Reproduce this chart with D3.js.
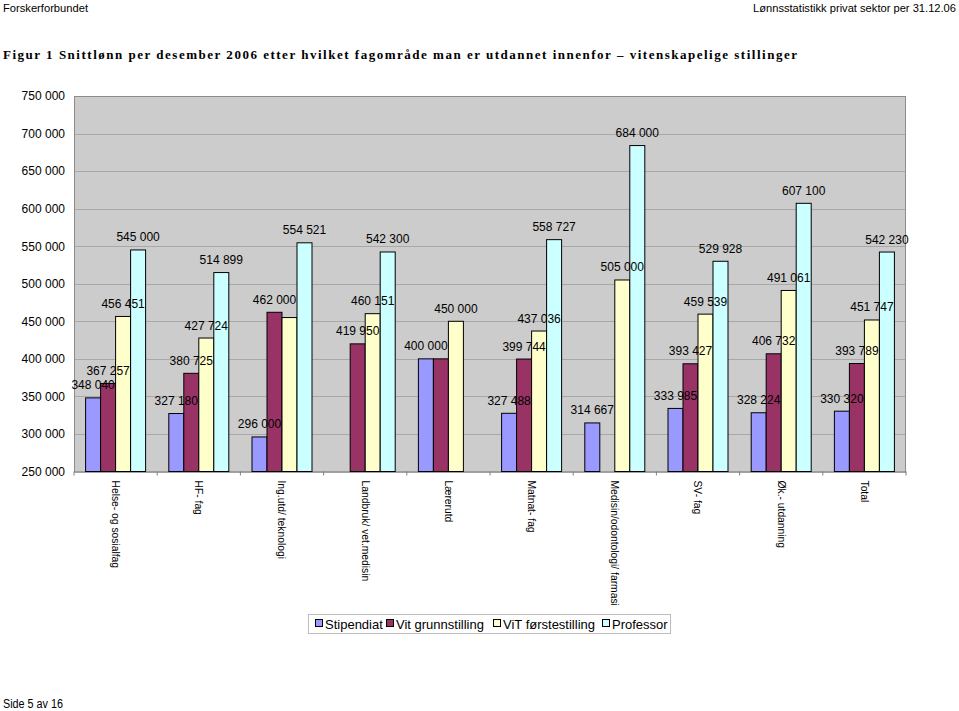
<!DOCTYPE html>
<html><head><meta charset="utf-8">
<script src="https://cdn.jsdelivr.net/npm/d3@7"></script>
<style>body{margin:0;background:#fff}svg{display:block}text{font-family:"Liberation Sans",Arial,sans-serif}</style>
</head><body>
<script>
const categories = ["Helse- og sosialfag","HF- fag","Ing.utd/ teknologi","Landbruk/ vet.medisin","Lærerutd","Matnat- fag","Medisin/odontologi/ farmasi","SV- fag","Øk.- utdanning","Total"];
const seriesNames = ["Stipendiat","Vit grunnstilling","ViT førstestilling","Professor"];
const stipendiat = [348040, 327180, 296000, null, 400000, 327488, 314667, 333985, 328224, 330320];
const vitGrunn   = [367257, 380725, 462000, 419950, 400000, 399744, null, 393427, 406732, 393789];
const vitForste  = [456451, 427724, 455000, 460151, 450000, 437036, 505000, 459539, 491061, 451747];
const professor  = [545000, 514899, 554521, 542300, null, 558727, 684000, 529928, 607100, 542230];
const hiddenLabels = [["Ing.utd/ teknologi","ViT førstestilling"],["Lærerutd","Vit grunnstilling"]];
const yTicks = [250000,300000,350000,400000,450000,500000,550000,600000,650000,700000,750000];
const colors = ["#9999FF","#993366","#FFFFCC","#CCFFFF"];

const W=959,H=711;
const svg=d3.select("body").append("svg").attr("width",W).attr("height",H);
const fmt=v=>d3.format(",")(v).replace(/,/g," ");

// header
svg.append("text").attr("x",3).attr("y",12).attr("font-size",11).attr("textLength",85).attr("lengthAdjust","spacingAndGlyphs").text("Forskerforbundet");
svg.append("text").attr("x",753).attr("y",12).attr("font-size",11).attr("textLength",203).attr("lengthAdjust","spacingAndGlyphs").text("Lønnsstatistikk privat sektor per 31.12.06");
svg.append("text").attr("x",3).attr("y",58.5).attr("font-size",13).attr("font-weight","bold")
  .style("font-family","'Liberation Serif','Times New Roman',serif")
  .attr("textLength",794).attr("lengthAdjust","spacing")
  .text("Figur 1 Snittlønn per desember 2006 etter hvilket fagområde man er utdannet innenfor – vitenskapelige stillinger");
svg.append("text").attr("x",3).attr("y",708).attr("font-size",12).attr("textLength",60).attr("lengthAdjust","spacingAndGlyphs").text("Side 5 av 16");

const L=74,R=906,T=96,B=471.5;
const y=d3.scaleLinear().domain([250000,750000]).range([B,T]);
const x0=d3.scaleBand().domain(categories).range([L,R]).paddingInner(0).paddingOuter(0);
const x1=d3.scaleBand().domain(seriesNames).range([0,x0.bandwidth()]).paddingInner(0).paddingOuter(0.773);

svg.append("rect").attr("x",L).attr("y",T).attr("width",R-L).attr("height",B-T).attr("fill","#CCCCCC");
// grid
svg.append("g").selectAll("line").data(yTicks.slice(1,-1)).join("line")
  .attr("x1",L).attr("x2",R).attr("y1",d=>Math.round(y(d))+0.5).attr("y2",d=>Math.round(y(d))+0.5)
  .attr("stroke","#A8A8A8").attr("stroke-width",1);
svg.append("rect").attr("x",L+0.5).attr("y",T+0.5).attr("width",R-L-1).attr("height",B-T).attr("fill","none").attr("stroke","#8C8C8C");

// y axis
const yAxis=d3.axisLeft(y).tickValues(yTicks).tickFormat(fmt).tickSize(0).tickPadding(9);
const gy=svg.append("g").attr("transform",`translate(${L},0)`).call(yAxis);
gy.select(".domain").remove();
gy.selectAll("text").attr("font-size",12).attr("fill","#000").style("font-family","'Liberation Sans',Arial,sans-serif");

// x axis
const xAxis=d3.axisBottom(x0).tickSize(0).tickPadding(0);
const gx=svg.append("g").attr("transform",`translate(0,${B})`).call(xAxis);
gx.select(".domain").attr("stroke","#808080");
gx.selectAll("text").attr("font-size",10.3).attr("fill","#000").style("font-family","'Liberation Sans',Arial,sans-serif")
  .attr("text-anchor","start").attr("transform","translate(0,9) rotate(90)").attr("dy","0.35em").attr("y",0).attr("x",0);
// boundary ticks
svg.append("g").selectAll("line").data(d3.range(categories.length+1)).join("line")
  .attr("x1",i=>L+i*x0.step()).attr("x2",i=>L+i*x0.step()).attr("y1",B).attr("y2",B+4).attr("stroke","#808080");

const seriesData=[stipendiat,vitGrunn,vitForste,professor];
const bars=[];
categories.forEach((c,i)=>seriesNames.forEach((s,j)=>{const v=seriesData[j][i]; if(v!=null) bars.push({c,s,j,v});}));
svg.append("g").selectAll("rect").data(bars).join("rect")
  .attr("x",d=>x0(d.c)+x1(d.s)).attr("width",x1.bandwidth())
  .attr("y",d=>y(d.v)).attr("height",d=>B-y(d.v))
  .attr("fill",d=>colors[d.j]).attr("stroke","#000").attr("stroke-width",1);
const isHidden=d=>hiddenLabels.some(h=>h[0]===d.c&&h[1]===d.s);
svg.append("g").selectAll("text").data(bars.filter(d=>!isHidden(d))).join("text")
  .attr("x",d=>x0(d.c)+x1(d.s)+x1.bandwidth()/2).attr("y",d=>y(d.v)-8.5)
  .attr("text-anchor","middle").attr("font-size",12).text(d=>fmt(d.v));

// legend
const lg=svg.append("g");
lg.append("rect").attr("x",308.5).attr("y",614.5).attr("width",362).attr("height",19).attr("fill","#fff").attr("stroke","#BDBDBD");
const lx=[315,386,493,602];
seriesNames.forEach((s,j)=>{
  lg.append("rect").attr("x",lx[j]+0.5).attr("y",619.5).attr("width",7).attr("height",7).attr("fill",colors[j]).attr("stroke","#000");
  lg.append("text").attr("x",lx[j]+10).attr("y",628.5).attr("font-size",13).text(s);
});
</script>
</body></html>
